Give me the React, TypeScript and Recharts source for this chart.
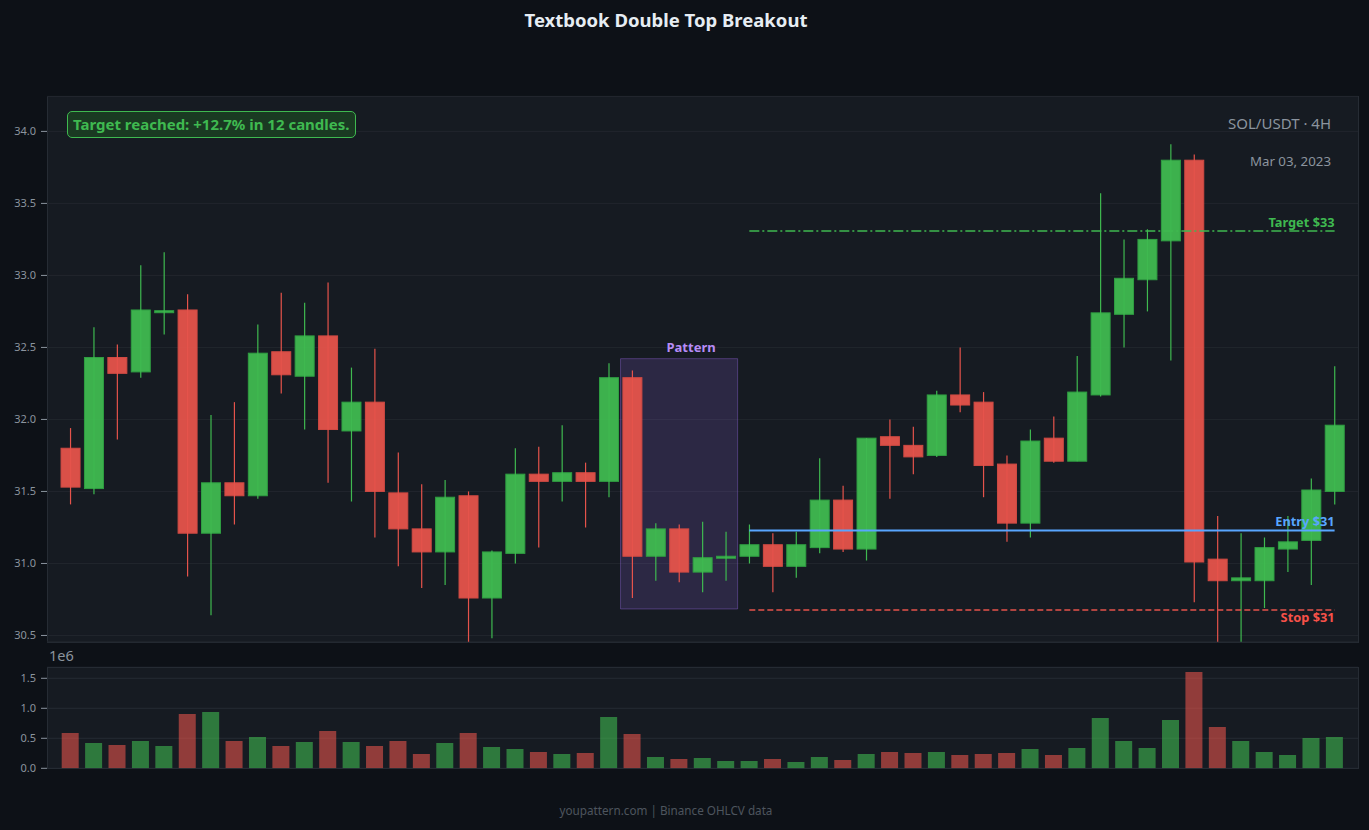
import { ComposedChart, Bar, XAxis, YAxis, CartesianGrid, ReferenceLine, ReferenceArea, Cell } from 'recharts'

const UP = '#3fb950'
const DOWN = '#e5534b'
const ENTRY = '#58a6ff'
const PURPLE = '#a371f7'
const AXIS_TEXT = '#8b949e'
const GRID = '#21262d'

const opens = [
  31.8, 31.52, 32.43, 32.33, 32.745, 32.76, 31.21, 31.56, 31.47, 32.47,
  32.3, 32.58, 31.92, 32.12, 31.49, 31.24, 31.08, 31.47, 30.76, 31.07,
  31.62, 31.57, 31.63, 31.57, 32.29, 31.05, 31.24, 30.94, 31.04, 31.05,
  31.13, 30.98, 31.11, 31.44, 31.1, 31.88, 31.82, 31.75, 32.17, 32.12,
  31.69, 31.28, 31.87, 31.71, 32.17, 32.73, 32.97, 33.24, 33.8, 31.03,
  30.88, 30.88, 31.1, 31.16, 31.5,
]
const highs = [
  31.94, 32.64, 32.52, 33.07, 33.16, 32.87, 32.03, 32.12, 32.66, 32.88,
  32.81, 32.95, 32.36, 32.49, 31.77, 31.55, 31.58, 31.5, 31.09, 31.8,
  31.81, 31.96, 31.7, 32.39, 32.34, 31.28, 31.27, 31.29, 31.22, 31.27,
  31.21, 31.22, 31.73, 31.54, 31.87, 32.0, 31.95, 32.2, 32.5, 32.19,
  31.75, 31.93, 32.02, 32.44, 33.57, 33.25, 33.32, 33.91, 33.84, 31.33,
  31.21, 31.18, 31.33, 31.59, 32.37,
]
const lows = [
  31.41, 31.48, 31.86, 32.29, 32.59, 30.91, 30.64, 31.27, 31.45, 32.18,
  31.93, 31.56, 31.43, 31.18, 30.98, 30.83, 30.85, 30.4, 30.48, 31.0,
  31.11, 31.43, 31.25, 31.46, 30.76, 30.88, 30.87, 30.8, 30.88, 31.0,
  30.8, 30.9, 31.07, 31.08, 31.02, 31.45, 31.62, 31.74, 32.05, 31.46,
  31.15, 31.18, 31.7, 31.71, 32.16, 32.5, 32.75, 32.41, 30.73, 30.4,
  30.4, 30.69, 30.94, 30.85, 31.41,
]
const closes = [
  31.53, 32.43, 32.32, 32.76, 32.755, 31.21, 31.56, 31.47, 32.46, 32.31,
  32.58, 31.93, 32.12, 31.5, 31.24, 31.08, 31.46, 30.76, 31.08, 31.62,
  31.57, 31.63, 31.57, 32.29, 31.05, 31.24, 30.94, 31.04, 31.05, 31.13,
  30.98, 31.13, 31.44, 31.1, 31.87, 31.82, 31.74, 32.17, 32.1, 31.68,
  31.28, 31.85, 31.71, 32.19, 32.74, 32.98, 33.25, 33.8, 31.01, 30.88,
  30.9, 31.11, 31.15, 31.51, 31.96,
]
const volumes = [
  589000, 422000, 389000, 456000, 372000, 906000, 939000, 456000, 522000, 372000,
  439000, 622000, 439000, 372000, 456000, 239000, 422000, 589000, 356000, 322000,
  272000, 239000, 256000, 856000, 572000, 189000, 156000, 172000, 122000, 122000,
  156000, 106000, 189000, 139000, 239000, 272000, 256000, 272000, 222000, 239000,
  256000, 322000, 222000, 339000, 839000, 456000, 339000, 806000, 1606000, 689000,
  456000, 272000, 222000, 506000, 522000,
]

const priceTicks = [30.5, 31.0, 31.5, 32.0, 32.5, 33.0, 33.5, 34.0]
const volumeTicks = [0, 500000, 1000000, 1500000]

const TARGET = 33.308
const ENTRY_PRICE = 31.229
const STOP = 30.676
const LEVEL_START = 29
const LEVEL_END = 54
const PATTERN_START = 24
const PATTERN_END = 28
const PATTERN_TOP = 32.422
const PATTERN_BOTTOM = 30.684

const data = opens.map((open, i) => ({
  i,
  open,
  high: highs[i],
  low: lows[i],
  close: closes[i],
  range: [lows[i], highs[i]],
  volume: volumes[i],
  up: closes[i] >= open,
}))

// candle body is placed inside the low..high bar that recharts gives us
const Candle = (props: any) => {
  const { x, y, width, height, payload } = props
  const { open, close, high, low } = payload
  const up = close >= open
  const ppu = high > low ? height / (high - low) : 0
  const top = y + (high - Math.max(open, close)) * ppu
  const bot = y + (high - Math.min(open, close)) * ppu
  const bodyH = Math.max(bot - top, 2)
  const cx = x + width / 2
  const fill = up ? UP : DOWN
  const edge = up ? '#2f9e42' : '#cf4a43'
  return (
    <g>
      <rect x={x} y={top} width={width} height={bodyH} fill={fill} fillOpacity={0.95} stroke={edge} strokeWidth={1} />
      <line x1={cx} x2={cx} y1={y} y2={y + height} stroke={fill} strokeWidth={1.2} />
    </g>
  )
}

const levelLabel = (text: string, color: string, below: boolean) => (props: any) => {
  const vb = props.viewBox || {}
  return (
    <text
      x={vb.x + vb.width}
      y={below ? vb.y + 12 : vb.y - 4}
      textAnchor="end"
      fill={color}
      fontSize={12.8}
      fontWeight={700}
      fontFamily="Noto Sans"
    >
      {text}
    </text>
  )
}

const xPad = { left: 11.7, right: 11.7 }

export default function App() {
  return (
    <div
      style={{
        position: 'absolute',
        left: 0,
        top: 0,
        width: 1369,
        height: 830,
        background: '#0d1117',
        fontFamily: '"Noto Sans", sans-serif',
        overflow: 'hidden',
      }}
    >
      <div style={{ position: 'absolute', left: 0, width: 1332, top: 7, textAlign: 'center', color: '#e6edf3', fontSize: 18.5, fontWeight: 700 }}>
        Textbook Double Top Breakout
      </div>

      <div style={{ position: 'absolute', left: 47, top: 96, width: 1310, height: 545, background: '#161b22', border: '1px solid #262c34' }} />
      <div style={{ position: 'absolute', left: 47, top: 667, width: 1310, height: 100, background: '#161b22', border: '1px solid #262c34' }} />

      <div style={{ position: 'absolute', left: 0, top: 0 }}>
        <ComposedChart width={1369} height={650} data={data} margin={{ top: 96.4, right: 11, bottom: 8.2, left: 0 }}>
          <CartesianGrid vertical={false} stroke={GRID} />
          <XAxis dataKey="i" type="category" hide padding={xPad} />
          <YAxis
            domain={[30.456, 34.243]}
            ticks={priceTicks}
            allowDataOverflow
            width={47}
            axisLine={false}
            tickLine={{ stroke: AXIS_TEXT }}
            tickSize={6}
            tickMargin={5}
            tick={{ fill: AXIS_TEXT, fontSize: 11 }}
            tickFormatter={(v: number) => v.toFixed(1)}
          />
          <ReferenceArea
            x1={PATTERN_START}
            x2={PATTERN_END}
            y1={PATTERN_BOTTOM}
            y2={PATTERN_TOP}
            fill={PURPLE}
            fillOpacity={0.16}
            stroke={PURPLE}
            strokeOpacity={0.35}
            label={{ value: 'Pattern', position: 'top', fill: '#b78cf7', fontSize: 13, fontWeight: 700, dx: 12, dy: -2 }}
          />
          <Bar dataKey="range" shape={Candle} isAnimationActive={false} />
          <ReferenceLine
            segment={[{ x: LEVEL_START, y: TARGET }, { x: LEVEL_END, y: TARGET }]}
            stroke={UP}
            strokeWidth={1.5}
            strokeDasharray="10 3 2 3"
            label={levelLabel('Target $33', UP, false)}
          />
          <ReferenceLine
            segment={[{ x: LEVEL_START, y: ENTRY_PRICE }, { x: LEVEL_END, y: ENTRY_PRICE }]}
            stroke={ENTRY}
            strokeWidth={2}
            label={levelLabel('Entry $31', ENTRY, false)}
          />
          <ReferenceLine
            segment={[{ x: LEVEL_START, y: STOP }, { x: LEVEL_END, y: STOP }]}
            stroke={DOWN}
            strokeWidth={1.5}
            strokeDasharray="6 3"
            label={levelLabel('Stop $31', '#f85149', true)}
          />
        </ComposedChart>
      </div>

      <div style={{ position: 'absolute', left: 0, top: 650 }}>
        <ComposedChart width={1369} height={130} data={data} margin={{ top: 17.3, right: 11, bottom: 11.7, left: 0 }}>
          <CartesianGrid vertical={false} stroke="#262c34" />
          <XAxis dataKey="i" type="category" hide padding={xPad} />
          <YAxis
            domain={[0, 1683000]}
            ticks={volumeTicks}
            allowDataOverflow
            width={47}
            axisLine={false}
            tickLine={{ stroke: AXIS_TEXT }}
            tickSize={6}
            tickMargin={5}
            tick={{ fill: AXIS_TEXT, fontSize: 11 }}
            tickFormatter={(v: number) => (v / 1e6).toFixed(1)}
          />
          <Bar dataKey="volume" barSize={17} isAnimationActive={false} fillOpacity={0.6}>
            {data.map((d, k) => (
              <Cell key={k} fill={d.up ? UP : DOWN} />
            ))}
          </Bar>
        </ComposedChart>
      </div>

      <div style={{ position: 'absolute', left: 49, top: 645, color: AXIS_TEXT, fontSize: 14.5 }}>1e6</div>

      <div
        style={{
          position: 'absolute',
          left: 67,
          top: 111,
          height: 27,
          padding: '0 5px',
          boxSizing: 'border-box',
          background: '#1a3a22',
          border: `1.5px solid ${UP}`,
          borderRadius: 5,
          color: UP,
          fontSize: 15,
          fontWeight: 700,
          lineHeight: '24px',
          whiteSpace: 'nowrap',
        }}
      >
        Target reached: +12.7% in 12 candles.
      </div>

      <div style={{ position: 'absolute', right: 1369 - 1331, top: 113, color: AXIS_TEXT, fontSize: 15 }}>SOL/USDT · 4H</div>
      <div style={{ position: 'absolute', right: 1369 - 1331, top: 152, color: AXIS_TEXT, fontSize: 13.3 }}>Mar 03, 2023</div>

      <div style={{ position: 'absolute', left: 0, width: 1332, top: 802, textAlign: 'center', color: '#4d555e', fontSize: 11.7 }}>
        youpattern.com | Binance OHLCV data
      </div>
    </div>
  )
}
